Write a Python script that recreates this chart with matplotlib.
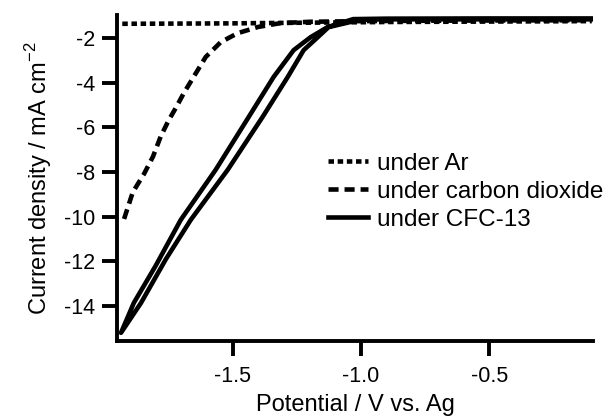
# Cyclic voltammograms under Ar, CO2 and CFC-13

import numpy as np
import matplotlib.pyplot as plt

plt.rcParams['font.family'] = ['Liberation Sans', 'DejaVu Sans']
plt.rcParams['axes.unicode_minus'] = False
plt.rcParams['mathtext.fontset'] = 'custom'
plt.rcParams['mathtext.rm'] = 'Liberation Sans'

# Data (V vs. Ag, mA cm^-2)
ar_v = [-1.93, -1.70, -1.50, -1.30, -1.10, -0.90, -0.70, -0.50, -0.30, -0.10]
ar_j = [-1.36, -1.35, -1.34, -1.32, -1.30, -1.28, -1.27, -1.26, -1.25, -1.24]

co2_v = [-1.923, -1.889, -1.846, -1.81, -1.78, -1.75, -1.72, -1.69, -1.643,
         -1.605, -1.546, -1.48, -1.40, -1.313, -1.20, -1.00, -0.70, -0.40, -0.10]
co2_j = [-10.1, -8.9, -8.1, -7.3, -6.4, -5.7, -5.1, -4.46, -3.57,
         -2.85, -2.18, -1.78, -1.50, -1.33, -1.27, -1.24, -1.22, -1.21, -1.20]

# CFC-13 loop: cathodic sweep then anodic sweep
cfc_v = [-0.10, -0.50, -0.90, -1.00, -1.126, -1.168, -1.223, -1.285, -1.383,
         -1.519, -1.663, -1.76, -1.857, -1.935,
         -1.885, -1.80, -1.702, -1.566, -1.437, -1.34, -1.262, -1.196,
         -1.13, -1.03, -0.90, -0.50, -0.10]
cfc_j = [-1.16, -1.16, -1.16, -1.17, -1.51, -1.96, -2.54, -3.74, -5.53,
         -7.9, -10.14, -11.9, -13.86, -15.2,
         -13.86, -12.2, -10.14, -7.9, -5.53, -3.74, -2.54, -1.96,
         -1.51, -1.15, -1.13, -1.12, -1.12]

fig = plt.figure(figsize=(6.07, 4.19), dpi=100)
ax = fig.add_axes([0.193, 0.186, 0.784, 0.778])

ax.plot(ar_v, ar_j, color='black', lw=3.3, linestyle=(0, (1.2, 0.8)), label='under Ar')
ax.plot(co2_v, co2_j, color='black', lw=3.3, linestyle=(0, (2.2, 1.3)), label='under carbon dioxide')
ax.plot(cfc_v, cfc_j, color='black', lw=3.3, label='under CFC-13')

ax.set_xlim(-1.95, -0.095)
ax.set_ylim(-15.57, -0.97)
ax.set_xticks([-1.5, -1.0, -0.5])
ax.set_yticks([-14, -12, -10, -8, -6, -4, -2])
ax.set_xticklabels(['-1.5', '-1.0', '-0.5'])
ax.set_yticklabels(['-14', '-12', '-10', '-8', '-6', '-4', '-2'])

for s in ['top', 'right']:
    ax.spines[s].set_visible(False)
for s in ['left', 'bottom']:
    ax.spines[s].set_linewidth(2.8)
ax.tick_params(direction='out', length=11, width=2.8, labelsize=15.5)
ax.tick_params(axis='x', pad=7)
ax.tick_params(axis='y', pad=5)

ax.set_xlabel('Potential / V vs. Ag', fontsize=17, labelpad=5)
ax.set_ylabel('Current density / mA cm$^{\\mathregular{-2}}$', fontsize=17, labelpad=7)

ax.legend(loc='upper left', bbox_to_anchor=(0.443, 0.577), frameon=False,
          fontsize=17.5, handlelength=1.65, handletextpad=0.35,
          labelspacing=0.24, borderpad=0, borderaxespad=0)

plt.savefig('out.png', dpi=100)
